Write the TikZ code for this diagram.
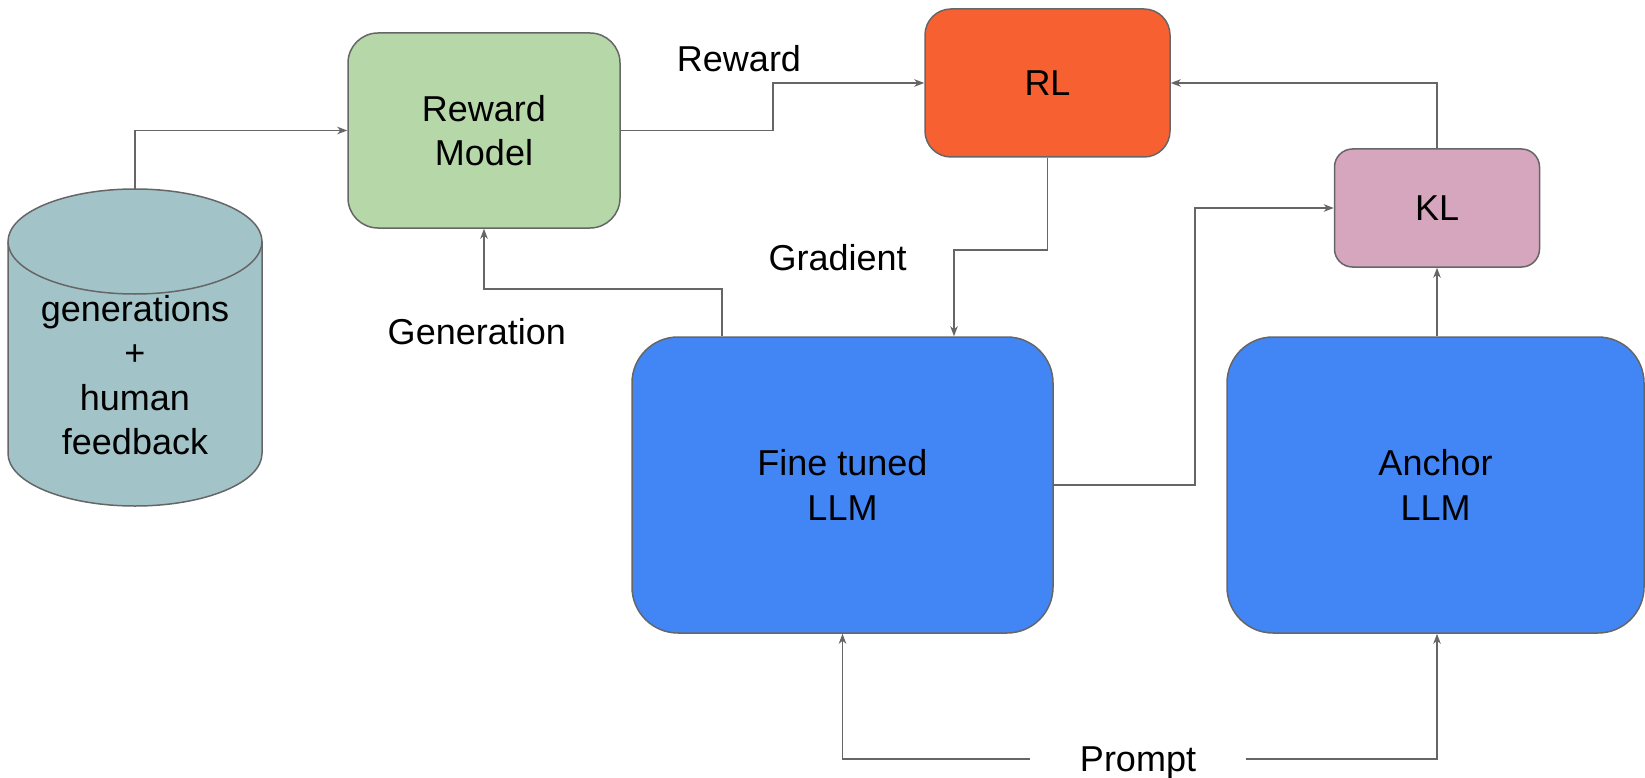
\documentclass[tikz,border=0pt]{standalone}
\usepackage{fontspec}
\setmainfont{Liberation Sans}
\usetikzlibrary{arrows.meta}

\definecolor{edge}{HTML}{666666}
\definecolor{dbfill}{HTML}{A2C4C9}
\definecolor{rmfill}{HTML}{B6D7A8}
\definecolor{rlfill}{HTML}{F76131}
\definecolor{klfill}{HTML}{D5A6BD}
\definecolor{llmfill}{HTML}{4285F4}

\begin{document}
\begin{tikzpicture}[x=1pt,y=-1pt,
  every node/.style={font=\fontsize{36}{44.5}\selectfont, align=center, inner sep=0pt},
  box/.style={draw=edge, line width=1.5pt},
  arr/.style={draw=edge, line width=1.6pt, -{Stealth[length=10pt,width=7.5pt,inset=3pt]}}]

\useasboundingbox (0,0) rectangle (1645,778);

% database cylinder
\fill[dbfill] (8,241.5) -- (8,453.5)
  arc[start angle=180,end angle=360,x radius=127pt,y radius=52.5pt]
  -- (262,241.5)
  arc[start angle=0,end angle=180,x radius=127pt,y radius=52.5pt] -- cycle;
\draw[edge, line width=1.5pt] (8,241.5) -- (8,453.5)
  arc[start angle=180,end angle=360,x radius=127pt,y radius=52.5pt]
  -- (262,241.5)
  arc[start angle=0,end angle=180,x radius=127pt,y radius=52.5pt] -- cycle;
\draw[edge, line width=1.5pt] (8,241.5)
  arc[start angle=180,end angle=360,x radius=127pt,y radius=52.5pt];
\coordinate (dbtop) at (135,189);
\node (dbtext) at (135,375) {generations\\+\\human\\feedback};

% blocks
\node[box, fill=rmfill, rounded corners=30pt, minimum width=272pt, minimum height=195pt]
  (rm) at (484,130.5) {Reward\\Model};
\node[box, fill=rlfill, rounded corners=26pt, minimum width=245pt, minimum height=148pt]
  (rl) at (1047.5,83) {RL};
\node[box, fill=klfill, rounded corners=18pt, minimum width=205pt, minimum height=118pt]
  (kl) at (1437,208) {KL};
\node[box, fill=llmfill, rounded corners=46pt, minimum width=421pt, minimum height=296pt]
  (ft) at (842.5,485) {Fine tuned\\LLM};
\node[box, fill=llmfill, rounded corners=46pt, minimum width=417pt, minimum height=296pt]
  (an) at (1435.5,485) {Anchor\\LLM};

% labels
\node[anchor=base] (lrew) at (739,71.7) {Reward};
\node[anchor=base] (lgrad) at (837.7,270.7) {Gradient};
\node[anchor=base] (lgen) at (476.8,344) {Generation};
\node[text depth=0pt] (prompt) at (1138,759) {Prompt};

% connectors
\draw[arr] (dbtop) |- (rm.west);
\draw[arr] (rm.east) -- ++(152,0) |- (rl.west);
\draw[arr] (kl.north) |- (rl.east);
\draw[arr] (rl.south) -- ++(0,92) -| ([xshift=111.5pt]ft.north);
\draw[arr] ([xshift=-120.5pt]ft.north) -- ++(0,-47) -| (rm.south);
\draw[arr] (ft.east) -- ++(141,0) |- (kl.west);
\draw[arr] ([xshift=1.5pt]an.north) -- (kl.south);
\draw[arr] ([xshift=-50pt]prompt.west) -| (ft.south);
\draw[arr] ([xshift=50pt]prompt.east) -| ([xshift=1.5pt]an.south);

\end{tikzpicture}
\end{document}
